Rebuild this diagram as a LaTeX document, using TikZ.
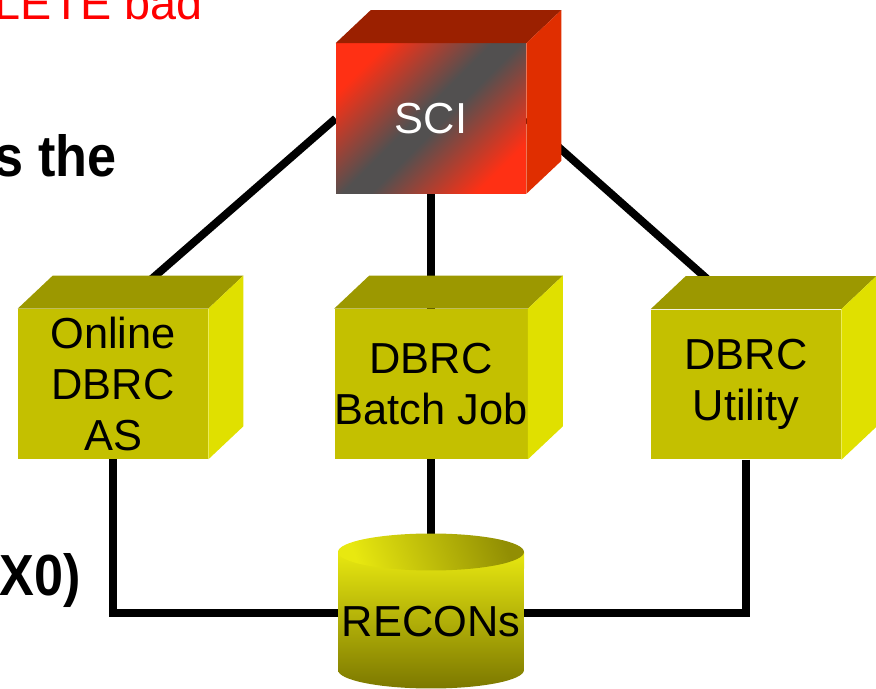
\documentclass[tikz,border=0pt]{standalone}
\usepackage{fontspec}
\setmainfont{Liberation Sans}
\usepackage{xcolor}
\usetikzlibrary{backgrounds}

\definecolor{sciRed}{RGB}{255,48,20}
\definecolor{sciGray}{RGB}{82,80,80}
\definecolor{sciTop}{RGB}{155,32,0}
\definecolor{sciSide}{RGB}{224,46,0}
\definecolor{dbrcFront}{RGB}{196,192,0}
\definecolor{dbrcTop}{RGB}{156,152,0}
\definecolor{dbrcSide}{RGB}{224,224,0}
\definecolor{cylLight}{RGB}{232,232,16}
\definecolor{cylDark}{RGB}{124,120,0}

\pgfdeclareverticalshading{sciband}{100bp}{color(0bp)=(sciRed); color(25bp)=(sciRed); color(47bp)=(sciGray); color(53bp)=(sciGray); color(75bp)=(sciRed); color(100bp)=(sciRed)}

\newcommand{\cubesides}[3]{%
  \fill[#2] (#1.north west) -- ([shift={(35,-33)}]#1.north west) -- ([shift={(35,-33)}]#1.north east) -- (#1.north east) -- cycle;
  \fill[#3] (#1.north east) -- ([shift={(35,-33)}]#1.north east) -- ([shift={(35,-33)}]#1.south east) -- (#1.south east) -- cycle;
}

\begin{document}
\begin{tikzpicture}[x=0.02cm, y=-0.02cm,
  face/.style={minimum width=3.8cm, minimum height=3cm, inner sep=0pt, align=center, font=\fontsize{24.7}{29}\selectfont},
  link/.style={line width=4.5pt, black},
  slidetext/.style={inner sep=0pt, font=\fontsize{33}{40}\selectfont\bfseries}]
  \useasboundingbox (0,0) rectangle (876,689);
  \clip (0,0) rectangle (876,689);

  \node[anchor=base west, inner sep=0pt, text=red, font=\fontsize{26.6}{32}\selectfont] (del) at (-5.5,20) {LETE bad};
  \node[slidetext, anchor=base east] (sthe) at (117,177) {\scalebox{0.9}[1]{s the}};
  \node[slidetext, anchor=base east] (xzero) at (81,595) {\scalebox{0.9}[1]{X0)}};

  \node[face, text=white, shading=sciband, shading angle=45] (sci) at (431,118.5) {SCI};
  \cubesides{sci}{sciTop}{sciSide}
  \node[face, fill=dbrcFront] (online) at (113,384) {Online\\DBRC\\AS};
  \cubesides{online}{dbrcTop}{dbrcSide}
  \node[face, fill=dbrcFront] (batch) at (431,384) {DBRC\\Batch Job};
  \cubesides{batch}{dbrcTop}{dbrcSide}
  \node[face, fill=dbrcFront] (utility) at (746,384.5) {DBRC\\Utility};
  \cubesides{utility}{dbrcTop}{dbrcSide}

  \shade[top color=cylLight, bottom color=cylDark] (338,552) -- (338,670) arc[start angle=180, end angle=360, x radius=1.86cm, y radius=0.37cm] -- (524,552) -- cycle;
  \shade[left color=cylLight, right color=cylDark!80!cylLight, shading angle=110] (431,552) ellipse[x radius=1.86cm, y radius=0.37cm];
  \node[minimum width=3.72cm, inner sep=2pt, font=\fontsize{24.7}{29}\selectfont] (recons) at (431,622) {RECONs};

  \begin{scope}[on background layer]
    \draw[link] (sci.west) -- ([shift={(15,-9)}]online.north);
    \draw[link] (sci.east) -- ([shift={(-15,-9)}]utility.north);
    \draw[link] (sci.south) -- (batch.north);
    \draw[link] (online.south) |- ([yshift=0.18cm]recons.west);
    \draw[link] (utility.south) |- ([yshift=0.18cm]recons.east);
    \draw[link] (batch.south) -- (recons.north);
  \end{scope}
\end{tikzpicture}
\end{document}
